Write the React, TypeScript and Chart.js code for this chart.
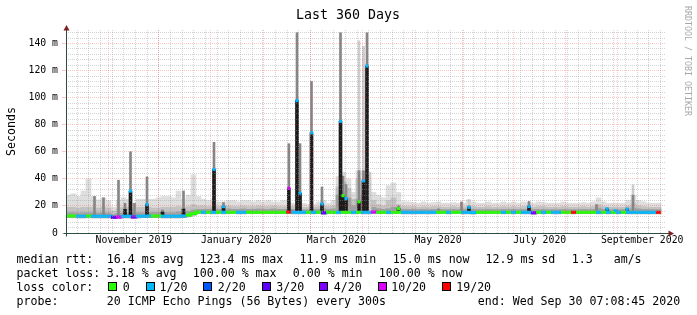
import React, { useEffect, useRef } from 'react';
import { Chart, registerables } from 'chart.js';

Chart.register(...registerables);

// ---------------- text ----------------
const TITLE = 'Last 360 Days';
const Y_TITLE = 'Seconds';
const WATERMARK = 'RRDTOOL / TOBI OETIKER';

// ---------------- time axis ----------------
const START_UTC = Date.UTC(2019, 9, 6, 7, 8, 45);
const RANGE_DAYS = 360;
const BUCKET_DAYS = 3;
const MONTH_GRID = ['2019-11-01', '2019-12-01', '2020-01-01', '2020-02-01', '2020-03-01', '2020-04-01', '2020-05-01', '2020-06-01', '2020-07-01', '2020-08-01', '2020-09-01'];
const FIRST_WEEK = '2019-10-13';
const X_LABELS = ['November 2019', 'January 2020', 'March 2020', 'May 2020', 'July 2020', 'September 2020'];
const X_LABEL_MONTHS = [['2019-11-01', '2019-12-01'], ['2020-01-01', '2020-02-01'], ['2020-03-01', '2020-04-01'], ['2020-05-01', '2020-06-01'], ['2020-07-01', '2020-08-01'], ['2020-09-01', '2020-10-01']];

// ---------------- value axis ----------------
const Y_MAX = 150;
const Y_MAJOR = 20;
const Y_MINOR = 4;

// ---------------- loss colours ----------------
const LOSS_COLORS = ['#26ff00', '#00b8ff', '#0059ff', '#5e00ff', '#7e00ff', '#dd00ff', '#ff0000'];
const LOSS_LABELS = ['0', '1/20', '2/20', '3/20', '4/20', '10/20', '19/20'];

// ---------------- 3-day buckets (ms) ----------------
const MEDIAN = [
  12.6, 12.5, 12.3, 12.3, 12.5, 12.3, 12.4, 12.3, 12.3, 11.6,
  11.8, 12.3, 12.3, 11.8, 12.3, 12.4, 12.5, 12.6, 12.6, 12.3,
  12.3, 12.3, 12.3, 12.6, 13.2, 14.4, 15.6, 15.3, 15.4, 15.3,
  15.4, 15.3, 15.4, 15.4, 15.3, 15.3, 15.4, 15.4, 15.4, 15.4,
  15.4, 15.4, 15.4, 15.4, 15.6, 15.3, 15.3, 15.3, 15.4, 15.3,
  15.4, 15.0, 15.4, 15.4, 15.3, 15.4, 15.4, 15.3, 15.4, 15.3,
  15.3, 15.6, 15.4, 15.4, 15.3, 15.4, 15.4, 15.3, 15.3, 15.3,
  15.3, 15.3, 15.3, 15.3, 15.4, 15.4, 15.3, 15.4, 15.4, 15.3,
  15.3, 15.2, 15.4, 15.4, 15.4, 15.4, 15.4, 15.3, 15.4, 15.3,
  15.4, 15.3, 15.3, 15.0, 15.4, 15.3, 15.4, 15.3, 15.3, 15.4,
  15.4, 15.3, 15.4, 15.4, 15.4, 15.4, 15.3, 15.4, 15.3, 15.4,
  15.3, 15.4, 15.3, 15.3, 15.3, 15.3, 15.3, 15.3, 15.3, null,
];
const LOSS = [
  0, 0, 1, 1, 0, 1, 1, 1, 1, 3,
  5, 1, 1, 4, 1, 1, 1, 0, 0, 1,
  1, 1, 1, 1, 0, 0, 0, 1, 0, 1,
  0, 1, 0, 0, 1, 1, 0, 0, 0, 0,
  0, 0, 0, 0, 6, 1, 1, 1, 0, 1,
  0, 3, 0, 0, 1, 0, 0, 1, 0, 1,
  1, 5, 0, 0, 1, 0, 0, 1, 1, 1,
  1, 1, 1, 1, 0, 0, 1, 0, 0, 1,
  1, 1, 0, 0, 0, 0, 0, 1, 0, 1,
  0, 1, 1, 4, 0, 1, 0, 1, 1, 0,
  0, 6, 0, 0, 0, 0, 1, 0, 1, 0,
  1, 0, 1, 1, 1, 1, 1, 1, 6, 0,
];
const SMOKE_MIN = [
  11.4, 11.3, 11.2, 11.2, 11.3, 11.2, 11.2, 11.2, 11.2, 10.6,
  10.8, 11.2, 11.2, 10.8, 11.2, 11.3, 11.4, 11.4, 11.4, 11.2,
  11.2, 11.2, 11.2, 11.4, 12.0, 13.2, 14.4, 14.2, 14.3, 14.2,
  14.3, 14.2, 14.3, 14.3, 14.2, 14.2, 14.3, 14.3, 14.3, 14.3,
  14.3, 14.3, 14.3, 14.3, 14.4, 14.2, 14.2, 14.2, 14.3, 14.2,
  14.3, 13.9, 14.3, 14.3, 14.2, 14.3, 14.3, 14.2, 14.3, 14.2,
  14.2, 14.4, 14.3, 14.3, 14.2, 14.3, 14.3, 14.2, 14.2, 14.2,
  14.2, 14.2, 14.2, 14.2, 14.3, 14.3, 14.2, 14.3, 14.3, 14.2,
  14.2, 14.1, 14.3, 14.3, 14.3, 14.3, 14.3, 14.2, 14.3, 14.2,
  14.3, 14.2, 14.2, 13.9, 14.3, 14.2, 14.3, 14.2, 14.2, 14.3,
  14.3, 14.2, 14.3, 14.3, 14.3, 14.3, 14.2, 14.3, 14.2, 14.3,
  14.2, 14.3, 14.2, 14.2, 14.2, 14.2, 14.2, 14.2, 14.2, null,
];
const SMOKE_DARK = [
  15.0, 15.0, 14.8, 15.0, 15.0, 15.0, 14.8, 15.0, 14.8, 13.5,
  14.5, 15.0, 15.0, 14.5, 15.0, 15.0, 15.2, 15.2, 15.2, 15.0,
  15.0, 15.0, 15.5, 15.2, 16.0, 17.0, 17.5, 17.5, 17.5, 17.5,
  17.5, 17.5, 17.8, 17.5, 17.5, 17.8, 17.5, 17.5, 17.8, 17.5,
  17.5, 17.8, 17.5, 17.5, 17.8, 17.5, 17.5, 17.3, 17.3, 17.3,
  17.5, 18.0, 17.5, 17.8, 28.0, 30.0, 26.0, 20.0, 25.0, 28.0,
  22.0, 19.0, 18.0, 17.5, 18.0, 19.0, 18.0, 17.5, 17.5, 17.5,
  17.3, 17.5, 17.3, 17.5, 17.5, 17.3, 17.3, 17.5, 17.3, 17.3,
  17.8, 17.5, 17.3, 17.3, 17.5, 17.3, 17.3, 17.5, 17.3, 17.5,
  17.3, 17.5, 17.5, 17.3, 17.5, 17.5, 17.3, 17.3, 17.3, 17.5,
  17.3, 17.3, 17.3, 17.5, 17.3, 17.5, 18.5, 17.5, 17.3, 17.3,
  17.3, 17.3, 17.8, 18.5, 17.8, 17.5, 17.3, 17.3, 17.3, null,
];
const SMOKE_MID = [
  19.0, 19.0, 18.5, 19.0, 19.0, 19.0, 18.5, 19.0, 18.5, 16.0,
  18.5, 19.0, 19.0, 18.0, 19.0, 19.0, 19.0, 18.5, 18.5, 19.0,
  19.0, 19.0, 19.5, 19.0, 19.5, 21.0, 20.0, 20.0, 19.5, 19.5,
  19.5, 19.5, 20.0, 19.5, 19.5, 20.0, 19.5, 19.5, 20.0, 19.5,
  19.5, 20.0, 19.5, 19.5, 20.0, 19.5, 19.5, 19.0, 19.0, 19.0,
  19.5, 20.0, 19.5, 20.0, 34.0, 38.0, 33.0, 25.0, 40.0, 38.0,
  30.0, 24.0, 21.0, 20.0, 24.0, 26.0, 21.0, 19.5, 19.5, 19.5,
  19.0, 19.5, 19.0, 19.5, 19.5, 19.0, 19.0, 19.5, 19.0, 19.0,
  20.0, 19.5, 19.0, 19.0, 19.5, 19.0, 19.0, 19.5, 19.0, 19.5,
  19.0, 19.5, 19.5, 19.0, 19.5, 19.5, 19.0, 19.0, 19.0, 19.5,
  19.0, 19.0, 19.0, 19.5, 19.0, 19.5, 21.0, 19.5, 19.0, 19.0,
  19.0, 19.0, 20.0, 22.0, 20.0, 19.5, 19.0, 19.0, 19.0, null,
];
const SMOKE_MAX = [
  28, 29, 27, 31, 40, 27, 24.5, 26, 24, 19,
  24, 26, 25, 22, 25, 25, 25, 25, 26, 27,
  27, 26, 31, 25, 28, 43, 27, 25, 24, 25,
  23, 23, 24, 24, 23, 24, 24, 23, 24, 23,
  24, 23, 23, 24, 24, 22, 22, 22, 21, 21,
  23, 24, 22, 24, 42, 45, 40, 30, 46, 46,
  40, 30, 28, 26, 35, 37, 30, 23, 23, 22.5,
  22, 23, 22, 22.5, 23, 22, 22, 22.5, 22, 22,
  24.5, 23, 22, 22, 23, 22, 22, 23, 22, 23,
  22, 23, 22.5, 22, 23, 22.5, 22, 22, 22, 23,
  22, 22, 22, 22.5, 22, 23, 26, 23, 22, 22,
  22, 22, 24, 28, 24, 23, 22, 22, 22, null,
];

// ---------------- short spikes (day offset, ms) ----------------
const SPIKE_DAY = [17.1, 22.5, 31.5, 35.4, 38.7, 41.1, 48.6, 57.9, 70.5, 88.8, 94.5, 133.7, 138.6, 140.4, 147.3, 153.6, 164.7, 166.2, 168.0, 175.8, 178.5, 180.6, 182.4, 199.5, 223.5, 237.3, 241.8, 277.8, 318.3, 324.7, 329.7, 336.7, 340.2];
const SPIKE_MIN = [12, 12, 12, 12, 12, 12, 12, 12, 12, 15, 15, 15, 15, 15, 15, 15, 15, 15, 15, 15, 15, 15, 15, 15, 15, 15, 15, 15, 15, 15, 15, 15, 15];
const SPIKE_MAX = [null, null, null, null, null, null, null, null, null, null, null, null, null, null, null, null, null, null, null, 142, 138, null, 45, null, null, null, 24.7, null, null, null, null, null, 35.5];
const SPIKE_UPPER = [27, 26, 39, 22, 60, 22, 41.5, 17, 31, 67, 22.5, 66, 148, 66, 112, 34, 148, 42, 36, 46, 46, 148, null, 20, 17.8, 23, 20, 23.3, 21, 18.5, 17, 18.5, 28];
const SPIKE_CORE = [null, null, null, 17.5, 31, null, 21, 15.5, 17.7, 47, 20, 33, 98, 29.4, 74, 21.5, 82.5, 27.6, 25.5, 23, 38.5, 123.4, null, 18.5, null, null, 19, 19.6, null, 17.8, 16.5, 17.6, null];
const SPIKE_MEDIAN = [null, null, null, null, 31, null, 21, null, null, 47, 19.5, 33, 97.8, 29.4, 74, 21.5, 82.5, 27.6, 25.5, 23, 38.5, 123.4, null, 18, null, null, 19, 19.6, null, 17.8, 16.5, 17.6, null];
const SPIKE_LOSS = [0, 0, 0, 0, 1, 0, 1, 0, 0, 1, 1, 5, 1, 1, 1, 1, 1, 0, 1, 0, 1, 1, 0, 0, 0, 0, 1, 1, 0, 1, 1, 1, 0];

// ---------------- legend text ----------------
const STAT_RTT = ['median rtt:', '16.4 ms avg', '123.4 ms max', '11.9 ms min', '15.0 ms now', '12.9 ms sd', '1.3   am/s'];
const STAT_LOSS = ['packet loss:', '3.18 % avg', '100.00 % max', '0.00 % min', '100.00 % now'];
const LOSS_TITLE = 'loss color:';
const PROBE_TEXT = ['probe:', '20 ICMP Echo Pings (56 Bytes) every 300s', 'end: Wed Sep 30 07:08:45 2020'];

// ---------------- styling ----------------
const MONO = '"DejaVu Sans Mono", monospace';
const GRID = 'rgba(150,150,150,0.42)';
const MGRID = 'rgba(255,60,60,0.3)';
const AXIS_COLOR = '#2C4D43';
const ARROW_COLOR = '#7F1F1F';

const DAY_MS = 86400000;
const dayOf = (s: string) => (Date.parse(s + 'T00:00:00Z') - START_UTC) / DAY_MS;

function buildXGrid() {
  const g: { value: number; major: boolean }[] = [];
  for (let d = dayOf(FIRST_WEEK); d < RANGE_DAYS; d += 7) g.push({ value: d, major: false });
  MONTH_GRID.forEach((s) => g.push({ value: dayOf(s), major: true }));
  return g;
}

const decorPlugin = {
  id: 'decor',
  beforeDraw(chart: any) {
    const { ctx, width, height } = chart;
    ctx.save();
    ctx.fillStyle = '#ffffff';
    ctx.fillRect(0, 0, width, height);
    ctx.restore();
  },
  afterDraw(chart: any) {
    const { ctx, chartArea: ca } = chart;
    const L = Math.round(ca.left) + 0.5;
    const B = Math.round(ca.bottom) + 0.5;
    ctx.save();
    ctx.strokeStyle = AXIS_COLOR;
    ctx.lineWidth = 1;
    ctx.beginPath();
    ctx.moveTo(L, B + 3);
    ctx.lineTo(L, ca.top);
    ctx.stroke();
    ctx.beginPath();
    ctx.moveTo(L - 3, B);
    ctx.lineTo(ca.right + 3, B);
    ctx.stroke();
    ctx.fillStyle = ARROW_COLOR;
    ctx.beginPath();
    ctx.moveTo(L, ca.top - 5);
    ctx.lineTo(L - 3, ca.top + 0.5);
    ctx.lineTo(L + 3, ca.top + 0.5);
    ctx.closePath();
    ctx.fill();
    ctx.beginPath();
    ctx.moveTo(ca.right + 8, B);
    ctx.lineTo(ca.right + 2.5, B - 3);
    ctx.lineTo(ca.right + 2.5, B + 3);
    ctx.closePath();
    ctx.fill();

    // title
    ctx.fillStyle = '#000';
    ctx.textBaseline = 'alphabetic';
    ctx.textAlign = 'center';
    ctx.font = `13.3px ${MONO}`;
    ctx.fillText(TITLE, 348, 18.5);

    // y title
    ctx.save();
    ctx.translate(15, (ca.top + ca.bottom) / 2);
    ctx.rotate(-Math.PI / 2);
    ctx.font = `11.6px ${MONO}`;
    ctx.fillText(Y_TITLE, 0, 0);
    ctx.restore();

    // watermark
    ctx.save();
    ctx.translate(685, 6);
    ctx.rotate(Math.PI / 2);
    ctx.textAlign = 'left';
    ctx.font = `8.3px ${MONO}`;
    ctx.fillStyle = '#a8a8a8';
    ctx.fillText(WATERMARK, 0, 0);
    ctx.restore();

    // legend
    ctx.textAlign = 'left';
    ctx.font = `11.6px ${MONO}`;
    ctx.fillStyle = '#000';
    const rows = [262.7, 276.8, 290.9, 305];
    const x1 = [16.5, 106.8, 199.5, 299.5, 392.8, 485.5, 571.8];
    STAT_RTT.forEach((t, i) => ctx.fillText(t, x1[i], rows[0]));
    const x2 = [16.5, 106.8, 192.8, 292.8, 378.8];
    STAT_LOSS.forEach((t, i) => ctx.fillText(t, x2[i], rows[1]));
    ctx.fillText(LOSS_TITLE, 16.5, rows[2]);
    const bx = [108, 146, 203, 262, 319, 378, 442];
    const lx = [122.8, 159.5, 217.8, 276.2, 333.8, 391.2, 456.2];
    LOSS_LABELS.forEach((t, i) => {
      ctx.fillStyle = LOSS_COLORS[i];
      ctx.fillRect(bx[i], 282, 9, 9);
      ctx.strokeStyle = '#000';
      ctx.lineWidth = 1;
      ctx.strokeRect(bx[i] + 0.5, 282.5, 8, 8);
      ctx.fillStyle = '#000';
      ctx.fillText(t, lx[i], rows[2]);
    });
    const x4 = [16.5, 106.8, 477.8];
    PROBE_TEXT.forEach((t, i) => ctx.fillText(t, x4[i], rows[3]));
    ctx.restore();
  },
};

export default function App() {
  const ref = useRef<HTMLCanvasElement>(null);

  useEffect(() => {
    const canvas = ref.current;
    if (!canvas) return;

    const xGrid = buildXGrid();
    const xLabelPos = X_LABEL_MONTHS.map(([a, b]) => (dayOf(a) + dayOf(b)) / 2);
    const yTicks: number[] = [];
    for (let v = 0; v < Y_MAX; v += Y_MINOR) yTicks.push(v);

    const center = (i: number) => i * BUCKET_DAYS + BUCKET_DAYS / 2;
    const layer = (top: (number | null)[]) =>
      top
        .map((t, i) => (t == null || SMOKE_MIN[i] == null ? null : { x: center(i), y: [SMOKE_MIN[i], t] }))
        .filter(Boolean);
    const spikeLayer = (top: (number | null)[]) =>
      top
        .map((t, i) => (t == null ? null : { x: SPIKE_DAY[i], y: [SPIKE_MIN[i], t] }))
        .filter(Boolean);

    const medPts: any[] = [];
    const medLoss: number[] = [];
    MEDIAN.forEach((m, i) => {
      if (m == null) return;
      medPts.push({ x: i * BUCKET_DAYS, y: m });
      medLoss.push(LOSS[i]);
      const next = MEDIAN[i + 1];
      if (next == null) {
        medPts.push({ x: (i + 1) * BUCKET_DAYS, y: m });
        medLoss.push(LOSS[i]);
      }
    });

    const markers: any[] = [];
    const markerColors: string[] = [];
    SPIKE_MEDIAN.forEach((m, i) => {
      if (m == null) return;
      markers.push({ x: SPIKE_DAY[i], y: m });
      markerColors.push(LOSS_COLORS[SPIKE_LOSS[i]]);
    });

    const barCommon = { type: 'bar', grouped: false, borderWidth: 0, xAxisID: 'x', yAxisID: 'y' };

    const chart = new Chart(canvas, {
      type: 'bar',
      data: {
        datasets: [
          { ...barCommon, label: 'smoke max', data: layer(SMOKE_MAX), backgroundColor: '#dedede', barThickness: 5, order: 10 },
          { ...barCommon, label: 'smoke mid', data: layer(SMOKE_MID), backgroundColor: '#c2c2c2', barThickness: 5, order: 9 },
          { ...barCommon, label: 'smoke dark', data: layer(SMOKE_DARK), backgroundColor: '#a0a0a0', barThickness: 5, order: 8 },
          { ...barCommon, label: 'spike max', data: spikeLayer(SPIKE_MAX), backgroundColor: '#cdcdcd', barThickness: 2, order: 7 },
          { ...barCommon, label: 'spike upper', data: spikeLayer(SPIKE_UPPER), backgroundColor: '#858585', barThickness: 2, order: 6 },
          { ...barCommon, label: 'spike core', data: spikeLayer(SPIKE_CORE), backgroundColor: '#1c1c1c', barThickness: 3, order: 5 },
          {
            type: 'line',
            label: 'median',
            data: medPts,
            xAxisID: 'x',
            yAxisID: 'y',
            stepped: true,
            borderWidth: 3,
            pointRadius: 0,
            borderCapStyle: 'butt',
            borderColor: LOSS_COLORS[0],
            segment: { borderColor: (c: any) => LOSS_COLORS[medLoss[c.p0DataIndex]] },
            order: 2,
          },
          {
            type: 'scatter',
            label: 'spike median',
            data: markers,
            xAxisID: 'x',
            yAxisID: 'y',
            pointStyle: 'rect',
            pointRadius: 2.2,
            pointBorderWidth: 0,
            pointBackgroundColor: markerColors,
            showLine: false,
            order: 1,
          },
        ] as any,
      },
      options: {
        responsive: false,
        devicePixelRatio: 1,
        animation: false,
        events: [],
        layout: { padding: { left: 0, right: 31, top: 30, bottom: 0 } },
        plugins: { legend: { display: false }, tooltip: { enabled: false }, title: { display: false } },
        scales: {
          x: {
            type: 'linear',
            min: 0,
            max: RANGE_DAYS,
            offset: false,
            position: 'bottom',
            weight: 0,
            afterBuildTicks: (s: any) => {
              s.ticks = xGrid.map((g) => ({ value: g.value }));
            },
            afterFit: (s: any) => {
              s.height = 0;
            },
            ticks: { display: false },
            grid: { z: 1, offset: false, drawTicks: false, lineWidth: 1, color: (c: any) => (xGrid[c.index] && xGrid[c.index].major ? MGRID : GRID) },
            border: { display: false, dash: [1, 1] },
          },
          xl: {
            type: 'linear',
            min: 0,
            max: RANGE_DAYS,
            offset: false,
            position: 'bottom',
            weight: 1,
            afterBuildTicks: (s: any) => {
              s.ticks = xLabelPos.map((v) => ({ value: v }));
            },
            afterFit: (s: any) => {
              s.height = 82;
            },
            grid: { display: false, drawTicks: false },
            border: { display: false },
            ticks: {
              autoSkip: false,
              maxRotation: 0,
              minRotation: 0,
              padding: 2,
              color: '#000',
              font: { family: MONO, size: 9.8 },
              callback: (_v: any, i: number) => X_LABELS[i],
            },
          },
          y: {
            type: 'linear',
            min: 0,
            max: Y_MAX,
            position: 'left',
            afterBuildTicks: (s: any) => {
              s.ticks = yTicks.map((v) => ({ value: v }));
            },
            afterFit: (s: any) => {
              s.width = 66;
            },
            ticks: {
              autoSkip: false,
              padding: 4,
              color: '#000',
              font: { family: MONO, size: 9.8 },
              callback: (v: any) => {
                const n = Math.round(Number(v));
                if (n % Y_MAJOR !== 0) return '';
                return n === 0 ? '0' : `${n} m`;
              },
            },
            grid: {
              z: 1,
              lineWidth: 1,
              tickLength: 4,
              color: (c: any) => (c.tick && Math.round(c.tick.value) % Y_MAJOR === 0 ? MGRID : GRID),
              tickColor: (c: any) => (c.tick && Math.round(c.tick.value) % Y_MAJOR === 0 ? MGRID : 'rgba(0,0,0,0)'),
            },
            border: { display: false, dash: [1, 1] },
          },
        },
      } as any,
      plugins: [decorPlugin],
    });

    return () => chart.destroy();
  }, []);

  return (
    <div style={{ position: 'absolute', left: 0, top: 0, width: 697, height: 315, background: '#fff' }}>
      <canvas ref={ref} width={697} height={315} style={{ display: 'block', width: 697, height: 315 }} />
    </div>
  );
}
